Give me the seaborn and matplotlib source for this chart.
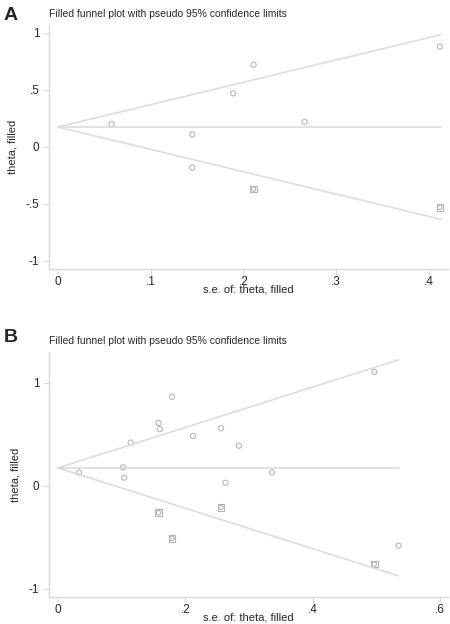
import numpy as np
import pandas as pd
import matplotlib.pyplot as plt
import seaborn as sns

# panel A: observed studies and filled (imputed) studies
a_se = [0.058, 0.145, 0.189, 0.211, 0.266, 0.412, 0.145]
a_theta = [0.20, 0.11, 0.47, 0.72, 0.22, 0.88, -0.18]
a_fill_se = [0.211, 0.412]
a_fill_theta = [-0.37, -0.53]
a_pooled = 0.175
a_se_max = 0.413

# panel B
b_se = [0.497, 0.179, 0.158, 0.160, 0.212, 0.256, 0.284, 0.114, 0.102,
        0.033, 0.104, 0.336, 0.263, 0.535]
b_theta = [1.107, 0.864, 0.61, 0.55, 0.485, 0.56, 0.39, 0.42, 0.18,
           0.13, 0.08, 0.13, 0.03, -0.58]
b_fill_se = [0.158, 0.256, 0.179, 0.497]
b_fill_theta = [-0.26, -0.21, -0.51, -0.76]
b_pooled = 0.175
b_se_max = 0.535

sns.set_style("white")
plt.rcParams["font.family"] = ["Liberation Sans", "DejaVu Sans"]

GRAY = "#d9d9d9"
MARK = "#b5b5b5"


def funnel(ax, se, theta, fill_se, fill_theta, pooled, se_max, xticks, xlabels,
           yticks, ylabels, xlim, ylim):
    s = np.array([0, se_max])
    lines = pd.DataFrame({
        "se": np.concatenate([s, s, s]),
        "theta": np.concatenate([pooled + 1.96 * s, pooled - 1.96 * s,
                                 [pooled, pooled]]),
        "which": ["upper"] * 2 + ["lower"] * 2 + ["mid"] * 2,
    })
    sns.lineplot(data=lines, x="se", y="theta", units="which", estimator=None,
                 color=GRAY, lw=1.1, ax=ax)

    obs = pd.DataFrame({"se": se, "theta": theta})
    sns.scatterplot(data=obs, x="se", y="theta", marker="o", s=14,
                    facecolor="none", edgecolor=MARK, linewidth=0.8, ax=ax)
    filled = pd.DataFrame({"se": fill_se, "theta": fill_theta})
    sns.scatterplot(data=filled, x="se", y="theta", marker="s", s=22,
                    facecolor="none", edgecolor=MARK, linewidth=0.8, ax=ax)
    sns.scatterplot(data=filled, x="se", y="theta", marker="o", s=10,
                    facecolor="none", edgecolor=MARK, linewidth=0.8, ax=ax)

    ax.set_xlim(*xlim)
    ax.set_ylim(*ylim)
    ax.set_xticks(xticks, xlabels)
    ax.set_yticks(yticks, ylabels)
    ax.set_xlabel("s.e. of: theta, filled", fontsize=8, labelpad=-2.5)
    ax.set_ylabel("theta, filled", fontsize=8, labelpad=6)
    ax.tick_params(axis="both", labelsize=8.5, length=4, color=GRAY,
                   direction="out", left=True, bottom=True, pad=3)
    ax.tick_params(axis="x", pad=1)
    for side in ["top", "right"]:
        ax.spines[side].set_visible(False)
    for side in ["left", "bottom"]:
        ax.spines[side].set_color(GRAY)
        ax.spines[side].set_linewidth(1.0)
    ax.set_title("Filled funnel plot with pseudo 95% confidence limits",
                 fontsize=7.5, loc="left", pad=6)


fig = plt.figure(figsize=(4.5, 6.24), dpi=100)
ax1 = fig.add_axes([0.109, 0.569, 0.887, 0.391])
ax2 = fig.add_axes([0.109, 0.043, 0.887, 0.393])

funnel(ax1, a_se, a_theta, a_fill_se, a_fill_theta, a_pooled, a_se_max,
       [0, 0.1, 0.2, 0.3, 0.4], ["0", ".1", ".2", ".3", ".4"],
       [-1, -0.5, 0, 0.5, 1], ["-1", "-.5", "0", ".5", "1"],
       (-0.0095, 0.421), (-1.07, 1.07))
funnel(ax2, b_se, b_theta, b_fill_se, b_fill_theta, b_pooled, b_se_max,
       [0, 0.2, 0.4, 0.6], ["0", ".2", ".4", ".6"],
       [-1, 0, 1], ["-1", "0", "1"],
       (-0.0142, 0.613), (-1.08, 1.30))

fig.text(0.008, 0.975, "A", fontsize=14, fontweight="bold", va="center")
fig.text(0.008, 0.459, "B", fontsize=14, fontweight="bold", va="center")

fig.savefig("out.png", dpi=100)
